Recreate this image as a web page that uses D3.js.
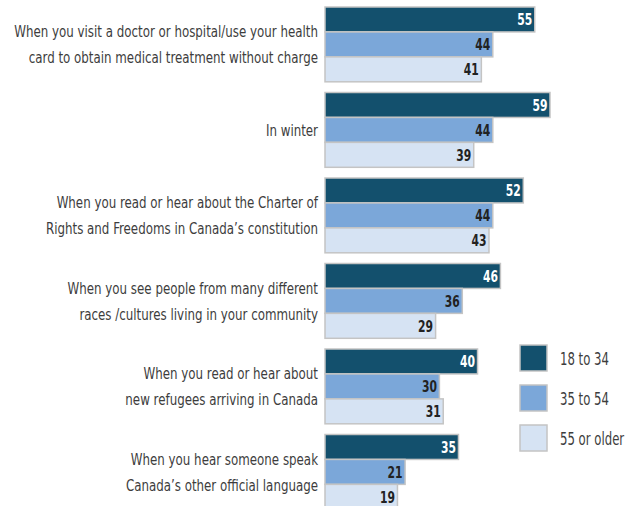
<!DOCTYPE html>
<html><head><meta charset="utf-8">
<script src="https://cdn.jsdelivr.net/npm/d3@7/dist/d3.min.js"></script>
<style>
html,body{margin:0;padding:0;background:#fff;}
svg{display:block;font-family:"DejaVu Sans Condensed","DejaVu Sans",sans-serif;}
</style></head>
<body><svg id="chart" width="633" height="506"></svg>
<script>
const categories = [
  ["When you visit a doctor or hospital/use your health", "card to obtain medical treatment without charge"],
  ["In winter"],
  ["When you read or hear about the Charter of", "Rights and Freedoms in Canada\u2019s constitution"],
  ["When you see people from many different", "races /cultures living in your community"],
  ["When you read or hear about", "new refugees arriving in Canada"],
  ["When you hear someone speak", "Canada\u2019s other official language"]
];
const seriesNames = ["18 to 34", "35 to 54", "55 or older"];
const age18to34 = [55, 59, 52, 46, 40, 35];
const age35to54 = [44, 44, 44, 36, 30, 21];
const age55plus = [41, 39, 43, 29, 31, 19];
const series = [age18to34, age35to54, age55plus];
const colors = ["#13506d", "#7ba7d9", "#d6e3f3"];
const labelColors = ["#ffffff", "#222222", "#222222"];

const svg = d3.select("#chart");
const x = d3.scaleLinear().domain([0, 59]).range([325, 550]);
const step = 85.5, padIn = 0.125;
const y0 = d3.scaleBand().domain(d3.range(categories.length))
  .range([7, 7 + step * (categories.length - padIn)]).paddingInner(padIn).paddingOuter(0);
const y1 = d3.scaleBand().domain(d3.range(3)).range([0, y0.bandwidth()]);

function measure(str, size, weight) {
  const t = svg.append("text").attr("font-size", size).attr("font-weight", weight || "normal").text(str);
  const w = t.node().getComputedTextLength();
  t.remove();
  return w;
}
const kLabel = 304 / measure(categories[0][0], 16.5);
const kVal = 15 / measure("55", 16, "bold");
const kLeg = 49 / measure(seriesNames[0], 18.5);

const g = svg.selectAll("g.grp").data(categories).join("g")
  .attr("class", "grp")
  .attr("transform", (d, i) => `translate(0,${y0(i)})`);

series.forEach((vals, s) => {
  g.append("rect")
    .attr("x", x(0))
    .attr("y", y1(s))
    .attr("width", (d, i) => x(vals[i]) - x(0))
    .attr("height", y1.bandwidth())
    .attr("fill", colors[s])
    .attr("stroke", "#c4c4c4")
    .attr("stroke-width", 1.5);
  g.append("g")
    .attr("transform", (d, i) => `translate(${x(vals[i]) - 2.5},${y1(s) + y1.bandwidth() / 2}) scale(${kVal},1)`)
    .append("text")
    .attr("dy", "0.36em")
    .attr("text-anchor", "end")
    .attr("font-size", 16)
    .attr("font-weight", "bold")
    .attr("fill", labelColors[s])
    .text((d, i) => vals[i]);
});

g.each(function(lines) {
  const n = lines.length;
  const t = d3.select(this).append("g")
    .attr("transform", `translate(318,0) scale(${kLabel},1)`)
    .append("text")
    .attr("text-anchor", "end")
    .attr("font-size", 16.5)
    .attr("fill", "#3d3d3d");
  lines.forEach((ln, k) => {
    t.append("tspan")
      .attr("x", 0)
      .attr("y", y0.bandwidth() / 2 + (k - (n - 1) / 2) * 26)
      .attr("dy", "0.36em")
      .text(ln);
  });
});

const leg = svg.selectAll("g.leg").data(seriesNames).join("g")
  .attr("class", "leg")
  .attr("transform", (d, i) => `translate(520,${345 + i * 40})`);
leg.append("rect").attr("width", 27).attr("height", 26)
  .attr("fill", (d, i) => colors[i]).attr("stroke", "#c4c4c4").attr("stroke-width", 1.5);
leg.append("g").attr("transform", `translate(40,13) scale(${kLeg},1)`)
  .append("text").attr("dy", "0.36em")
  .attr("font-size", 18.5).attr("fill", "#3d3d3d").text(d => d);
</script>
</body></html>
